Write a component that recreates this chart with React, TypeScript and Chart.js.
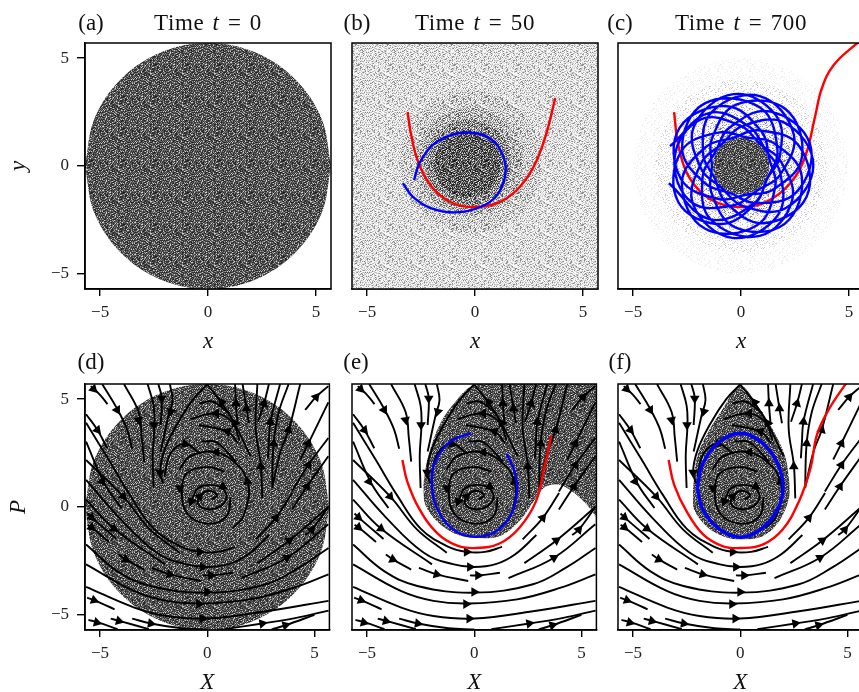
import React, { useEffect, useRef } from "react";
import { Chart, registerables } from "chart.js";
Chart.register(...registerables);

type Pt = [number, number];

const axisMin = -5.7;
const axisMax = 5.7;
const tickValues = [-5, 0, 5];
const panelLabels = ["(a)", "(b)", "(c)", "(d)", "(e)", "(f)"];
const titleTimes = ["0", "50", "700"];

// Grey levels, used as fill styles for the particle density of each region
const speckleTile = [
  "73910822641793558264100395827316", "18462207395864629073568704917350",
  "50293116940827361449952710384720", "96748305529164283172016403857261",
  "24106958382047796530324719050383", "81359724671058246967135224996172",
  "07582263910485731720068573642094", "63014870956321487825739148102568",
  "42768153076204315997620881539168", "19335208641173520864797352386410",
  "85206917398020641239852664173952", "36471584203797158420069715842736",
  "71948296137104429650710482365371", "28093760542859076014985937201428",
  "94560327859116832785341603778594", "50227941365782794136108279413050",
  "17895068241039566824473950282917", "68340517796824951239682405073168",
  "39016820473551082047695168204739", "04782939650178213465847821096504",
  "82217940358961294035126179403682", "47559326184005937618470193261847",
  "15038470261793847226959384707615", "70864185932026918593102641359370",
  "93481607254348760725034816572593", "26150493812975049381667504138126",
  "58702736495310273649081927364458", "31297258041869725004136472580913",
  "64820371096482537159248703115964", "09956814720335681072793568947209",
  "75641096383524919638052410763875", "42183765994708376219420037151942",
];
const levelDark = [35, 45, 55, 65, 75, 85, 100, 120, 150, 205];
const levelB0 = [135, 175, 198, 212, 222, 232, 240, 248, 255, 255];
const levelB1 = [105, 145, 175, 192, 205, 220, 232, 245, 255, 255];
const levelB2 = [75, 110, 135, 158, 175, 195, 210, 230, 250, 255];
const levelB3 = [45, 65, 90, 110, 130, 150, 175, 200, 225, 245];
const levelB4 = [25, 35, 50, 65, 80, 95, 115, 140, 175, 225];
const levelC1 = [235, 250, 255, 255, 255, 255, 255, 255, 255, 255];
const levelC2 = [205, 235, 252, 255, 255, 255, 255, 255, 255, 255];
const levelC3 = [170, 210, 235, 250, 255, 255, 255, 255, 255, 255];
const levelC4 = [130, 170, 205, 228, 245, 252, 255, 255, 255, 255];

// Occupied regions (upper and lower edge)
const discTop: Pt[] = [[-5.7,0],[-5.27,2.18],[-4.03,4.03],[-2.18,5.27],[0,5.7],[2.18,5.27],[4.03,4.03],[5.27,2.18],[5.7,0]];
const discBottom: Pt[] = [[-5.7,0],[-5.27,-2.18],[-4.03,-4.03],[-2.18,-5.27],[0,-5.7],[2.18,-5.27],[4.03,-4.03],[5.27,-2.18],[5.7,0]];
const fullTop: Pt[] = [[-5.8,5.8],[5.8,5.8]];
const fullBottom: Pt[] = [[-5.8,-5.8],[5.8,-5.8]];
const b1Top: Pt[] = [[-3.5,.2],[-3.24,1.45],[-2.54,2.54],[-1.45,3.24],[-.2,3.5],[1.05,3.24],[2.14,2.54],[2.84,1.45],[3.1,.2]];
const b1Bottom: Pt[] = [[-3.5,.2],[-3.24,-1.05],[-2.54,-2.14],[-1.45,-2.84],[-.2,-3.1],[1.05,-2.84],[2.14,-2.14],[2.84,-1.05],[3.1,.2]];
const b2Top: Pt[] = [[-2.75,.2],[-2.55,1.15],[-2.03,1.98],[-1.2,2.5],[-.25,2.7],[.7,2.5],[1.53,1.98],[2.05,1.15],[2.25,.2]];
const b2Bottom: Pt[] = [[-2.75,.2],[-2.55,-.75],[-2.03,-1.58],[-1.2,-2.1],[-.25,-2.3],[.7,-2.1],[1.53,-1.58],[2.05,-.75],[2.25,.2]];
const b3Top: Pt[] = [[-2.3,.15],[-2.14,.91],[-1.72,1.57],[-1.06,1.99],[-.3,2.15],[.46,1.99],[1.12,1.57],[1.54,.91],[1.7,.15]];
const b3Bottom: Pt[] = [[-2.3,.15],[-2.14,-.61],[-1.72,-1.27],[-1.06,-1.69],[-.3,-1.85],[.46,-1.69],[1.12,-1.27],[1.54,-.61],[1.7,.15]];
const b4Top: Pt[] = [[-1.9,.1],[-1.78,.69],[-1.45,1.2],[-.94,1.53],[-.35,1.65],[.24,1.53],[.75,1.2],[1.08,.69],[1.2,.1]];
const b4Bottom: Pt[] = [[-1.9,.1],[-1.78,-.49],[-1.45,-1],[-.94,-1.33],[-.35,-1.45],[.24,-1.33],[.75,-1],[1.08,-.49],[1.2,.1]];
const c1Top: Pt[] = [[-5,0],[-4.6,1.9],[-3.55,3.55],[-1.9,4.6],[0,5],[1.9,4.6],[3.55,3.55],[4.6,1.9],[5,0]];
const c1Bottom: Pt[] = [[-5,0],[-4.6,-1.9],[-3.55,-3.55],[-1.9,-4.6],[0,-5],[1.9,-4.6],[3.55,-3.55],[4.6,-1.9],[5,0]];
const c2Top: Pt[] = [[-4,0],[-3.68,1.52],[-2.84,2.84],[-1.52,3.68],[0,4],[1.52,3.68],[2.84,2.84],[3.68,1.52],[4,0]];
const c2Bottom: Pt[] = [[-4,0],[-3.68,-1.52],[-2.84,-2.84],[-1.52,-3.68],[0,-4],[1.52,-3.68],[2.84,-2.84],[3.68,-1.52],[4,0]];
const c3Top: Pt[] = [[-3.2,0],[-2.94,1.22],[-2.27,2.27],[-1.22,2.94],[0,3.2],[1.22,2.94],[2.27,2.27],[2.94,1.22],[3.2,0]];
const c3Bottom: Pt[] = [[-3.2,0],[-2.94,-1.22],[-2.27,-2.27],[-1.22,-2.94],[0,-3.2],[1.22,-2.94],[2.27,-2.27],[2.94,-1.22],[3.2,0]];
const c4Top: Pt[] = [[-2.4,0],[-2.21,.91],[-1.7,1.7],[-.91,2.21],[0,2.4],[.91,2.21],[1.7,1.7],[2.21,.91],[2.4,0]];
const c4Bottom: Pt[] = [[-2.4,0],[-2.21,-.91],[-1.7,-1.7],[-.91,-2.21],[0,-2.4],[.91,-2.21],[1.7,-1.7],[2.21,-.91],[2.4,0]];
const c5Top: Pt[] = [[-1.32,0],[-1.21,.5],[-.94,.94],[-.5,1.21],[0,1.32],[.5,1.21],[.94,.94],[1.21,.5],[1.32,0]];
const c5Bottom: Pt[] = [[-1.32,0],[-1.21,-.5],[-.94,-.94],[-.5,-1.21],[0,-1.32],[.5,-1.21],[.94,-.94],[1.21,-.5],[1.32,0]];
const eTop: Pt[] = [[-2.38,1.03],[-2.17,2.26],[-1.58,3.88],[-.82,4.95],[0,5.65],[2,5.9],[5.8,5.9]];
const eBottom: Pt[] = [[-2.38,1.03],[-2.28,.1],[-1.74,-.66],[-.97,-1.2],[0,-1.43],[1.18,-1.35],[2.1,-.66],[2.88,.42],[3.34,.95],[3.95,1.03],[4.57,.72],[5.26,.1],[5.65,-.43],[5.8,-.6]];
const fTop: Pt[] = [[-2.2,.88],[-2.03,2.26],[-1.57,3.34],[-.8,4.57],[0,5.62],[.9,4.57],[1.66,3.34],[2.12,2.26],[2.31,1.03]];
const fBottom: Pt[] = [[-2.2,.88],[-2.18,-.05],[-1.57,-.9],[-.8,-1.35],[0,-1.5],[1.05,-1.35],[1.82,-.66],[2.28,.42],[2.31,1.03]];

// Red and blue trajectories
const redB: Pt[] = [[-3.12,2.5],[-2.97,1.5],[-2.58,.05],[-1.89,-1.1],[-.97,-1.75],[-.05,-1.9],[1.03,-1.72],[1.95,-1.1],[2.72,-.03],[3.26,1.35],[3.72,3.15]];
const blueB: Pt[] = [[-2.82,-.65],[-2.58,.12],[-1.97,.97],[-1.12,1.43],[-.35,1.55],[.57,1.35],[1.18,.74],[1.42,-.26],[1.03,-1.34],[.26,-1.9],[-.89,-2.15],[-2.05,-1.95],[-2.89,-1.42],[-3.34,-.8]];
const redC: Pt[] = [[-3.1,2.5],[-2.92,1.05],[-2.5,-.34],[-1.72,-1.34],[-.8,-1.8],[.12,-1.9],[1.2,-1.65],[2.28,-.8],[2.97,.43],[3.43,2.28],[3.74,3.58],[4.28,4.66],[5.35,5.66],[5.8,5.94]];
const blueC: Pt[] = [
  [-3.29,.92],[-1.45,2.46],[.42,1.8],[1.13,.75],[1.82,-.32],[1.7,-2.29],
  [-.41,-3.33],[-2.21,-1.8],[-1.84,.14],[-.9,1],[.06,1.85],[2.03,2],
  [3.35,.06],[2.08,-1.95],[.08,-1.85],[-.9,-1.01],[-1.84,-.14],[-2.18,1.83],
  [-.35,3.33],[1.63,2.33],[1.8,.45],[1.2,-.61],[.69,-1.72],[-.93,-2.69],
  [-2.9,-1.68],[-2.77,.68],[-.99,1.56],[.27,1.32],[1.52,1.06],[2.81,-.45],
  [2.02,-2.68],[-.27,-2.84],[-1.37,-1.24],[-1.35,-.01],[-1.35,1.26],[-.22,2.84],
  [2.06,2.64],[2.82,.4],[1.5,-1.09],[.23,-1.33],[-1.03,-1.53],[-2.79,-.59],
  [-2.84,1.78],[-.66,2.77],[.96,1.58],[1.31,.33],[1.59,-.94],[.72,-2.76],
  [-1.68,-2.9],[-2.74,-.78],[-1.63,.88],[-.4,1.29],[.83,1.65],[2.69,.93],
  [3.04,-1.42],[1.05,-2.65],[-.68,-1.72],[-1.22,-.57],[-1.76,.58],[-1.35,2.51],
  [.87,3.24],[2.44,1.48],[1.81,-.41],[.75,-1.13],[-.33,-1.82],[-2.31,-1.67],
  [-3.07,.43],[-1.86,2.16],[.01,1.85],[.89,1.01],[1.83,.24],[2.37,-1.59],
  [.87,-3.24],[-1.4,-2.48],[-1.78,-.51],[-1.19,.64],[-.54,1.77],[1.32,2.53],
  [3.19,1.04],[2.58,-1.2],[.69,-1.72],[-.48,-1.26],[-1.66,-.81],[-2.73,.83],
  [-1.68,2.9],[.88,2.71],[1.69,.75],[1.23,-.55],[.57,-1.76],[-1.43,-2.47],[-3.34,-.8],
];
const redE: Pt[] = [[-3.35,2.18],[-3.12,1.18],[-2.58,-.05],[-1.74,-1.2],[-.82,-1.78],[.1,-1.9],[1.18,-1.69],[2.1,-.97],[2.88,.26],[3.26,1.8],[3.6,3.3]];
const blueE: Pt[] = [[-.15,3.42],[-1.12,3.03],[-1.82,2.1],[-1.97,1.03],[-1.74,-.05],[-.97,-1.05],[.03,-1.38],[1.03,-1.12],[1.72,-.35],[2,.72],[1.88,1.65],[1.52,2.45]];
const redF: Pt[] = [[-3.34,2.18],[-3.08,1.03],[-2.5,-.2],[-1.72,-1.28],[-.8,-1.82],[.05,-1.9],[1.05,-1.74],[1.97,-1.05],[2.74,.26],[3.28,1.8],[3.58,3.34],[4.12,4.5],[4.85,5.6],[5.1,5.9]];
const blueF: Pt[] = [[-2,.9],[-1.75,2],[-1,3],[0,3.42],[1,3],[1.75,2],[2,.9],[1.75,-.1],[1,-1],[0,-1.4],[-1,-1],[-1.75,-.1],[-2,.9]];

// Streamlines of the phase-space flow, shared by panels d, e and f
const streamlines: Pt[][] = [
  [[-5.43,5.6],[-5,5.2],[-4.65,4.77]],
  [[-4.9,5.7],[-4.2,4.55],[-3.74,3.6],[-3.5,2.7]],
  [[-3.88,5.7],[-3.2,4.4],[-3.05,3.2],[-2.94,2.1]],
  [[-2.78,5.7],[-2.5,4.7],[-2.46,3.8],[-2.54,2.4],[-2.5,.88]],
  [[-2.28,5.7],[-2.12,5.05],[-2.17,3.8]],
  [[-1.74,5.7],[-1.62,4.95],[-1.8,4.25],[-2.17,2.57]],
  [[-5.65,4.3],[-5.12,3.57],[-4.66,2.72]],
  [[-5.65,3.03],[-4.8,1.1],[-4,-.05]],
  [[-5.65,3.9],[-4.6,2.2],[-3.6,.55],[-2.5,-1],[-1.2,-1.85],[-.35,-2.08],[.5,-2.08],[1.3,-1.85]],
  [[-5.65,2.18],[-3.92,.49],[-2.66,-1.05],[-1.28,-2.12]],
  [[-5.65,1.26],[-4.1,-.5],[-2.35,-2.12],[-1,-2.65],[0,-2.78],[1,-2.65],[1.9,-2.2],[2.9,-1.3]],
  [[-5.65,.34],[-4.35,-1],[-1.97,-2.66]],
  [[-5.58,-.3],[-5.4,-.48],[-4.23,-1.48]],
  [[-5.58,-.82],[-5.4,-.94],[-4.58,-1.62]],
  [[-4.12,-2.2],[-3.8,-2.43],[-2.94,-2.9]],
  [[-2.58,-2.82],[-1.75,-3.12],[-.28,-3.43]],
  [[-.2,-3.17],[.18,-3.17],[1.2,-3.05]],
  [[-5.65,-1.74],[-4.2,-2.97],[-2.65,-3.66],[0,-3.97],[2.74,-3.58],[4.3,-2.8],[5.66,-1.9]],
  [[-5.65,-2.66],[-3.4,-3.9],[-1.9,-4.35],[-.3,-4.47],[2,-4.28],[4,-3.75],[5.66,-3.12]],
  [[-5.65,-3.7],[-3.4,-4.66],[-1.9,-5.05],[0,-5.17],[2.74,-4.83],[5.66,-4.35]],
  [[-5.6,-4.2],[-5.28,-4.32],[-4.32,-4.74]],
  [[-5.54,-5.23],[-5.1,-5.35],[-4.18,-5.66]],
  [[-4.5,-5.17],[-4.1,-5.28],[-2.72,-5.66]],
  [[-3.5,-5.17],[-2.63,-5.4],[-1.2,-5.62],[0,-5.68]],
  [[.8,-5.66],[2.57,-5.4],[4.1,-5.15],[5.66,-4.8]],
  [[3,-5.68],[3.65,-5.48],[5,-5]],
  [[1.6,-3.3],[3.72,-2.35],[5.65,-.8]],
  [[2.34,-2.6],[3.83,-1.55],[5.65,0]],
  [[2.26,-1.5],[3.2,-.5],[3.96,.65]],
  [[4.57,-1.3],[4.88,-1.05],[5.65,0]],
  [[3.95,-.12],[4.65,.95],[5.65,2.35]],
  [[3.95,.72],[4.72,1.95],[5.65,3.2]],
  [[4.34,2.2],[4.72,2.95],[5.65,4.85]],
  [[4.57,4.5],[5.08,5.1],[5.65,5.6]],
  [[3.03,.88],[3.42,2.57],[3.8,3.57],[4.34,5.7]],
  [[3.03,1],[3.1,2.95],[3.34,4.4],[3.8,5.7]],
  [[2.83,2.26],[2.88,3.03],[2.95,3.95],[3.4,5.7]],
  [[2.37,3.95],[2.65,4.8],[2.88,5.7]],
  [[2.57,.4],[2.5,1.95],[2.26,3.65],[2.34,5.7]],
  [[1.95,3.88],[1.83,4.57],[1.65,5.7]],
  [[1.42,3.8],[1.34,4.8],[1.3,5.7]],
  [[2.03,2.34],[1.26,3.9],[.65,4.85],[0,5.68]],
  [[0,5.68],[-.65,5],[-1.4,3.85],[-2,2.6],[-2.2,1.6],[-2.05,1.1]],
  [[1.03,4.34],[.26,4.88],[-.38,4.8]],
  [[1.5,3.1],[1.18,3.92],[.42,4.34],[-.78,4.08]],
  [[1.45,2.95],[.95,3.49],[-.38,3.8]],
  [[1.34,2.1],[.42,3],[-.28,3.03]],
  [[-.3,2.45],[-1.03,2.92],[-1.7,2.5],[-2,1.4]],
  [[1.18,-.97],[1.65,-.5],[1.95,.57],[1.88,1.18],[1.49,1.88],[.42,2.54],[-.82,2.34],[-1.3,1.72]],
  [[1.1,.45],[.9,-.43],[0,-.77],[-.95,-.28],[-1.18,.8],[-.95,1.57],[0,1.85],[.8,1.65]],
  [[.2,.35],[.45,.55],[.1,.75],[-.35,.5],[-.4,.1],[.2,-.1],[.8,.2],[.85,.7],[.4,1],[-.4,.9],[-.75,.26]],
];
// Arrowheads: X, P, heading in degrees clockwise from up
const streamArrows: [number, number, number][] = [
  [-5.3,5.47,135],[-4.2,4.5,150],[-3.2,4.03,170],[-2.48,3.8,180],[-2.12,5.03,180],[-1.7,4.42,195],
  [-5.12,3.57,140],[-4.9,1.18,145],[-3.92,.49,140],[-4.35,-1,125],[-5.4,-.48,130],[-5.4,-.94,130],
  [-3.8,-2.43,115],[-1.75,-3.12,105],[-5.28,-4.32,110],[-5.15,-5.35,105],[-4.12,-5.28,105],[-2.63,-5.4,100],
  [-.35,-2.08,90],[-.2,-2.78,90],[.18,-3.17,90],[0,-3.94,90],[-.38,-4.5,90],[-.23,-5.17,90],
  [2.57,-5.4,80],[3.65,-5.48,75],[3.72,-2.35,60],[3.83,-1.55,55],[3.2,-.5,40],[4.88,-1.05,40],
  [4.65,.95,30],[4.72,1.95,30],[4.72,2.95,25],[5.08,5.1,40],[3.8,3.57,15],[3.1,2.95,5],[2.95,3.95,5],
  [2.65,4.8,15],[2.5,1.88,0],[1.83,4.57,0],[1.34,4.8,0],[.68,4.85,325],[1.29,3.88,330],
  [.42,4.34,270],[.95,3.5,290],[.42,2.54,270],[1.88,1.18,350],[-1.28,.88,180],[.72,.95,0],
  [-.74,.26,200],[-.35,.49,45],[-2.2,1.6,180],[-1.03,2.92,225],
];

const toXY = (pts: Pt[]) => pts.map(([x, y]) => ({ x, y }));

function tilePattern(levels: number[]): CanvasPattern {
  const n = speckleTile.length;
  const c = document.createElement("canvas");
  c.width = n;
  c.height = n;
  const g = c.getContext("2d")!;
  const img = g.createImageData(n, n);
  speckleTile.forEach((row, j) => {
    for (let i = 0; i < n; i++) {
      const v = levels[Number(row[i])];
      const k = (j * n + i) * 4;
      img.data[k] = v;
      img.data[k + 1] = v;
      img.data[k + 2] = v;
      img.data[k + 3] = 255;
    }
  });
  g.putImageData(img, 0, 0);
  return g.createPattern(c, "repeat")!;
}

type Panel = {
  left: number; top: number;
  xTitle: string; yTitle?: string;
  regions: [Pt[], Pt[], number[]][];
  curves: [Pt[], string, number][];
  flow: boolean;
};

const panels: Panel[] = [
  { left: 85, top: 43, xTitle: "x", yTitle: "y", flow: false, curves: [], regions: [[discTop, discBottom, levelDark]] },
  { left: 352, top: 43, xTitle: "x", flow: false, curves: [[blueB, "#0000ff", 2.4], [redB, "#ff0000", 2.4]],
    regions: [[fullTop, fullBottom, levelB0], [b1Top, b1Bottom, levelB1], [b2Top, b2Bottom, levelB2], [b3Top, b3Bottom, levelB3], [b4Top, b4Bottom, levelB4]] },
  { left: 618, top: 43, xTitle: "x", flow: false, curves: [[blueC, "#0000ff", 2.4], [redC, "#ff0000", 2.4]],
    regions: [[c1Top, c1Bottom, levelC1], [c2Top, c2Bottom, levelC2], [c3Top, c3Bottom, levelC3], [c4Top, c4Bottom, levelC4], [c5Top, c5Bottom, levelDark]] },
  { left: 85, top: 384, xTitle: "X", yTitle: "P", flow: true, curves: [], regions: [[discTop, discBottom, levelDark]] },
  { left: 352, top: 384, xTitle: "X", flow: true, curves: [[blueE, "#0000ff", 2.4], [redE, "#ff0000", 2.4]], regions: [[eTop, eBottom, levelDark]] },
  { left: 618, top: 384, xTitle: "X", flow: true, curves: [[blueF, "#0000ff", 3.4], [redF, "#ff0000", 2.4]], regions: [[fTop, fBottom, levelDark]] },
];

const serif = "'Liberation Serif', serif";
const framePlugin = {
  id: "frame",
  afterDraw(chart: any) {
    const { ctx, chartArea: a } = chart;
    ctx.save();
    ctx.strokeStyle = "#000";
    ctx.lineWidth = 1.5;
    ctx.strokeRect(a.left, a.top, a.right - a.left, a.bottom - a.top);
    ctx.restore();
  },
};

const PANEL_SIZE = 246;
const LEFT_SPACE = 80;
const TOP_SPACE = 10;
const BOTTOM_SPACE = 68;
const RIGHT_SPACE = 4;

function PanelChart({ p }: { p: Panel }) {
  const ref = useRef<HTMLCanvasElement>(null);
  useEffect(() => {
    const datasets: any[] = [];
    p.curves.forEach(([pts, color, width]) =>
      datasets.push({ data: toXY(pts), borderColor: color, borderWidth: width, pointRadius: 0, tension: 0.4, fill: false, order: 0 })
    );
    if (p.flow) {
      datasets.push({
        data: streamArrows.map(([x, y]) => ({ x, y })),
        showLine: false, pointStyle: "triangle", pointRadius: 5.6, pointBorderWidth: 0,
        pointBackgroundColor: "#000", pointRotation: streamArrows.map((a) => a[2]), order: 1,
      });
      streamlines.forEach((s) =>
        datasets.push({ data: toXY(s), borderColor: "#000", borderWidth: 1.9, pointRadius: 0, tension: 0.4, fill: false, order: 2 })
      );
    }
    p.regions.forEach(([top, bottom, level], i) => {
      const pattern = tilePattern(level);
      datasets.push({ data: toXY(top), borderWidth: 0, pointRadius: 0, tension: 0.35, fill: "+1", backgroundColor: pattern, order: 100 - i });
      datasets.push({ data: toXY(bottom), borderWidth: 0, pointRadius: 0, tension: 0.35, fill: false, order: 100 - i });
    });
    const tickFont = { family: serif, size: 17 };
    const tickLabel = (v: any) => String(v).replace("-", "\u2212");
    const noPad = (s: any) => { s.paddingTop = 0; s.paddingBottom = 0; s.paddingLeft = 0; s.paddingRight = 0; };
    const chart = new Chart(ref.current!, {
      type: "line",
      data: { datasets },
      plugins: [framePlugin],
      options: {
        animation: false,
        responsive: false,
        devicePixelRatio: 1,
        layout: { padding: { top: TOP_SPACE, right: RIGHT_SPACE, left: 0, bottom: 0 } },
        plugins: { legend: { display: false }, tooltip: { enabled: false }, title: { display: false } },
        scales: {
          x: {
            type: "linear", min: axisMin, max: axisMax,
            afterBuildTicks: (s: any) => { s.ticks = tickValues.map((value) => ({ value })); },
            afterFit: (s: any) => { s.height = BOTTOM_SPACE; noPad(s); },
            grid: { drawOnChartArea: false, drawTicks: true, tickLength: 7, color: "#000", lineWidth: 1.4 },
            border: { color: "#000", width: 1.5 },
            ticks: { font: tickFont, color: "#222", padding: 6, maxRotation: 0, callback: tickLabel, autoSkip: false },
            title: { display: true, text: p.xTitle, font: { family: serif, size: 23, style: "italic" }, color: "#111", padding: { top: 0, bottom: 1 } },
          },
          y: {
            type: "linear", min: axisMin, max: axisMax, display: !!p.yTitle,
            afterBuildTicks: (s: any) => { s.ticks = tickValues.map((value) => ({ value })); },
            afterFit: (s: any) => { s.width = LEFT_SPACE; noPad(s); },
            grid: { drawOnChartArea: false, drawTicks: true, tickLength: 8, color: "#000", lineWidth: 1.4 },
            border: { color: "#000", width: 1.5 },
            ticks: { font: tickFont, color: "#222", padding: 8, callback: tickLabel, autoSkip: false },
            title: { display: !!p.yTitle, text: p.yTitle ?? "", font: { family: serif, size: 23, style: "italic" }, color: "#111", padding: { top: 0, bottom: 0 } },
          },
        },
      } as any,
    });
    return () => chart.destroy();
  }, [p]);
  return (
    <canvas
      ref={ref}
      width={LEFT_SPACE + PANEL_SIZE + RIGHT_SPACE}
      height={TOP_SPACE + PANEL_SIZE + BOTTOM_SPACE}
      style={{ position: "absolute", display: "block", left: p.left - LEFT_SPACE, top: p.top - TOP_SPACE, width: LEFT_SPACE + PANEL_SIZE + RIGHT_SPACE, height: TOP_SPACE + PANEL_SIZE + BOTTOM_SPACE }}
    />
  );
}

const labelX = [91, 357, 620, 91, 356, 620];
const labelY = [22, 22, 22, 361, 361, 361];
const titleX = [208, 475, 741];

const textStyle: React.CSSProperties = {
  position: "absolute", transform: "translate(-50%,-50%)", fontFamily: serif, fontSize: 23, color: "#111", whiteSpace: "pre", lineHeight: 1,
};

export default function App() {
  return (
    <div style={{ position: "fixed", left: 0, top: 0, width: 859, height: 692, overflow: "hidden", background: "#fff" }}>
      {panels.map((p, i) => <PanelChart key={i} p={p} />)}
      {panelLabels.map((t, i) => (
        <div key={t} style={{ ...textStyle, left: labelX[i], top: labelY[i] }}>{t}</div>
      ))}
      {titleTimes.map((t, i) => (
        <div key={t} style={{ ...textStyle, left: titleX[i], top: 22, letterSpacing: 0.6, wordSpacing: 2 }}>
          Time <i>t</i> = {t}
        </div>
      ))}
    </div>
  );
}
